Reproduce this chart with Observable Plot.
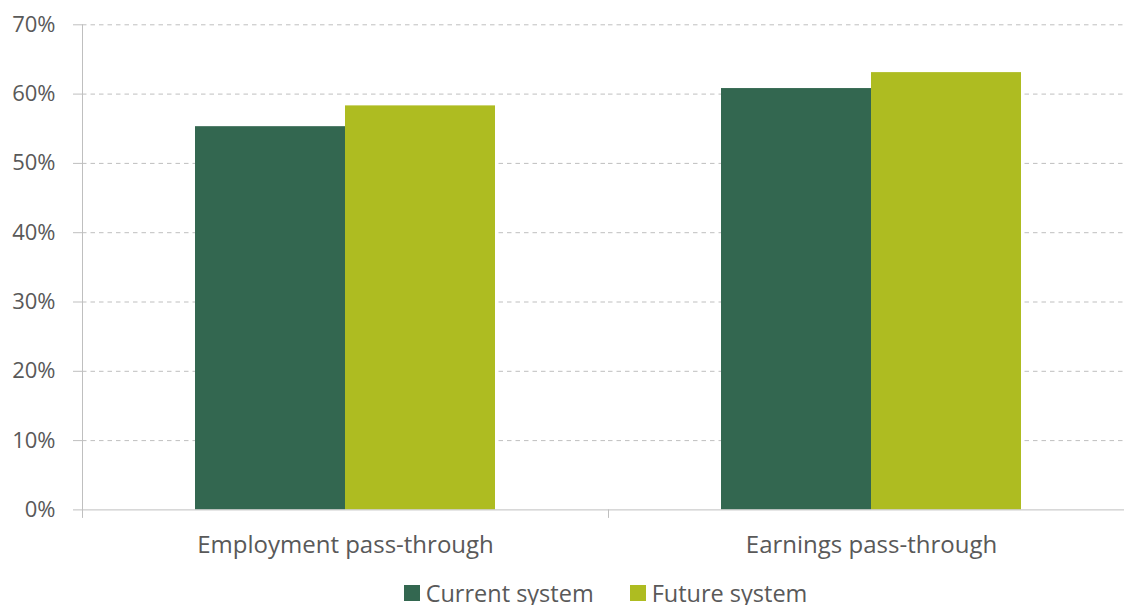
<!DOCTYPE html>
<html><head><meta charset="utf-8">
<script src="https://cdn.jsdelivr.net/npm/d3@7"></script>
<script src="https://cdn.jsdelivr.net/npm/@observablehq/plot@0.6"></script>
<style>
body{margin:0;overflow:hidden;background:#fff;font-family:"Open Sans",sans-serif;}
#chart{height:581px;}
#legend{display:flex;justify-content:center;align-items:center;height:24px;line-height:24px;font-size:23.5px;color:#595959;padding-left:87px;}
#legend .item{display:flex;align-items:center;margin:0 18px;line-height:24px;}
#legend .sw{width:16px;height:16px;margin-right:6px;display:inline-block;}
</style></head><body><div id="chart"></div><div id="legend"></div><script>
const categories = ["Employment pass-through","Earnings pass-through"];
const series = ["Current system","Future system"];
const current = [55.3, 60.8];
const future = [58.3, 63.1];
const yTicks = [0,10,20,30,40,50,60,70];
const colors = ["#336750","#AEBC21"];
const data = categories.flatMap((c,i)=>[
  {category:c, series:series[0], value:current[i]},
  {category:c, series:series[1], value:future[i]}
]);

const plot = Plot.plot({
  width:1124, height:581, marginTop:24.3, marginBottom:71.6, marginLeft:82, marginRight:-10,
  style:{fontFamily:'"Open Sans", sans-serif', fontSize:"22px", color:"#595959", background:"#fff", overflow:"visible"},
  fx:{domain:categories, padding:0, label:null},
  x:{domain:series, paddingInner:0, paddingOuter:0.7533, axis:null},
  y:{domain:[0,70], label:null},
  color:{domain:series, range:colors},
  marks:[
    Plot.gridY(yTicks.filter(t=>t>0), {stroke:"#bfbfbf", strokeOpacity:1, strokeDasharray:"4.5,4"}),
    Plot.axisY(yTicks, {tickFormat:d=>d+"%", tickSize:9, tickPadding:18, stroke:"#bfbfbf", strokeOpacity:1, fill:"#595959", fontSize:22, label:null}),
    Plot.barY(data, {fx:"category", x:"series", y:"value", fill:"series"}),
    Plot.ruleY([0], {stroke:"#bfbfbf"}),
    Plot.axisFx({anchor:"bottom", tickSize:0, tickPadding:26, fontSize:24, fill:"#595959", label:null})
  ]
});
plot.style.display = "block";
document.getElementById("chart").appendChild(plot);

// axis line and category boundary ticks, positioned from Plot's scales
const fx = plot.scale("fx"), y = plot.scale("y");
const svg = d3.select(plot);
const g = svg.append("g").attr("stroke","#bfbfbf").attr("stroke-width",1);
const y0 = y.apply(0), yTop = y.apply(d3.max(yTicks));
const xLeft = fx.range[0];
g.append("line").attr("x1",xLeft+0.5).attr("x2",xLeft+0.5).attr("y1",yTop).attr("y2",y0+8.5);
categories.slice(1).forEach(c=>{
  const xb = fx.apply(c);
  g.append("line").attr("x1",xb+0.5).attr("x2",xb+0.5).attr("y1",y0).attr("y2",y0+8.5);
});

const legend = document.getElementById("legend");
series.forEach((s,i)=>{
  const it = document.createElement("span"); it.className="item";
  const sw = document.createElement("span"); sw.className="sw"; sw.style.background=colors[i];
  it.appendChild(sw); it.appendChild(document.createTextNode(s));
  legend.appendChild(it);
});
</script></body></html>
